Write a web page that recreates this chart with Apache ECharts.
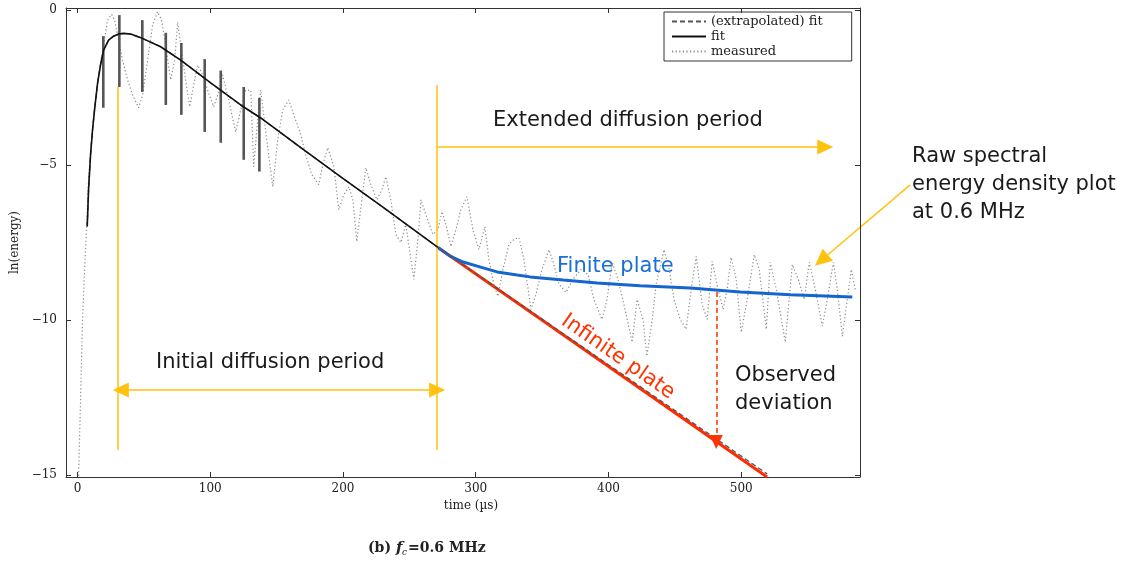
<!DOCTYPE html>
<html><head><meta charset="utf-8">
<script src="https://cdn.jsdelivr.net/npm/echarts@6/dist/echarts.min.js"></script>
<style>html,body{margin:0;padding:0;background:#fff}#c{width:1133px;height:565px}</style>
</head><body><div id="c"></div>
<script>
// ---- data (time in µs, ln(energy)) ----
const xTicks = [0, 100, 200, 300, 400, 500];
const yTicks = [-15, -10, -5, 0];

const measured = [[0.8,-15.03],[1.5,-13.84],[2.3,-12.55],[3.0,-11.27],[3.8,-9.98],[5.3,-8.37],[6.8,-7.02],[8.3,-5.47],[10.6,-4.18],[13.6,-2.90],[16.6,-1.93],[19.6,-1.13],[22.6,-0.32],[25.6,-0.13],[27.9,-0.32],[30.9,-0.97],[33.9,-1.61],[37.7,-2.25],[41.5,-2.74],[46.0,-3.15],[49.0,-2.74],[52.8,-1.61],[56.6,-0.48],[60.3,-0.05],[63.3,-0.32],[66.4,-1.13],[70.1,-2.25],[73.2,-1.61],[75.4,-0.39],[78.4,-1.29],[81.4,-2.25],[84.5,-3.12],[87.5,-2.41],[90.5,-1.77],[94.3,-2.09],[98.0,-2.58],[102.6,-3.12],[105.6,-2.74],[109.3,-2.09],[113.9,-2.90],[119.1,-3.93],[122.9,-3.22],[126.7,-2.58],[130.5,-2.58],[132.7,-5.05],[135.7,-3.54],[138.0,-2.58],[142.5,-4.18],[147.1,-5.70],[150.8,-4.18],[154.6,-3.22],[159.1,-2.90],[162.9,-3.38],[168.2,-4.02],[171.9,-4.67],[176.5,-5.31],[181.7,-5.63],[184.8,-4.99],[188.5,-4.44],[193.1,-5.05],[196.8,-6.44],[200.6,-5.96],[204.4,-5.70],[207.4,-6.12],[210.4,-7.47],[214.2,-6.12],[217.2,-5.09],[221.0,-5.63],[225.5,-6.12],[229.3,-5.79],[232.3,-5.38],[236.0,-6.12],[239.8,-7.24],[243.6,-7.50],[247.3,-6.92],[253.4,-8.69],[256.4,-7.40],[258.7,-6.12],[262.4,-6.60],[267.7,-7.24],[271.5,-7.08],[274.5,-6.50],[277.5,-6.92],[281.3,-7.63],[285.1,-7.08],[288.8,-6.44],[293.3,-6.02],[297.9,-7.08],[302.4,-7.73],[306.9,-6.99],[309.9,-8.05],[313.7,-8.85],[316.7,-9.24],[320.5,-8.37],[325.0,-7.56],[328.8,-7.40],[332.6,-7.34],[336.3,-8.05],[341.6,-9.66],[345.4,-9.17],[349.9,-8.37],[355.2,-7.73],[358.9,-8.21],[362.7,-8.85],[368.0,-9.11],[373.3,-8.69],[379.3,-8.37],[384.6,-8.53],[389.1,-9.34],[395.1,-9.98],[398.9,-9.34],[402.7,-8.14],[407.2,-8.69],[412.5,-9.66],[417.8,-10.72],[421.6,-9.34],[426.1,-10.00],[428.9,-11.17],[433.0,-9.98],[435.9,-8.85],[441.9,-7.73],[445.7,-8.37],[449.4,-9.34],[454.0,-9.98],[458.5,-10.30],[462.3,-9.01],[466.1,-7.95],[470.6,-9.50],[474.4,-9.98],[478.1,-8.11],[482.6,-9.01],[486.4,-9.66],[489.4,-9.01],[492.4,-7.98],[496.2,-8.69],[500.0,-10.40],[504.5,-9.34],[509.8,-7.89],[513.6,-8.37],[518.9,-10.30],[521.9,-8.14],[526.4,-9.01],[533.2,-10.72],[538.5,-8.21],[543.0,-8.69],[547.5,-9.34],[551.3,-8.14],[555.8,-9.01],[561.1,-10.20],[564.9,-9.34],[569.4,-8.14],[572.4,-9.01],[576.2,-10.53],[579.9,-9.34],[582.9,-8.37],[585.9,-9.01]];

const fit = [[7.3,-6.98],[8.3,-5.79],[9.8,-4.67],[11.3,-3.86],[12.8,-3.22],[15.1,-2.35],[17.3,-1.77],[19.6,-1.29],[23.4,-0.97],[27.1,-0.84],[30.9,-0.77],[34.7,-0.75],[40.0,-0.77],[48.8,-0.91],[62.6,-1.18],[77.7,-1.61],[100.3,-2.35],[122.9,-3.06],[138.0,-3.48],[168.2,-4.44],[198.3,-5.38],[228.5,-6.31],[271.5,-7.66]];
const extrapolatedTail = [[519.5,-14.97]];

const finitePlate = [[271.5,-7.66],[280.7,-7.94],[290.5,-8.13],[305.6,-8.32],[316.1,-8.45],[331.2,-8.55],[341.0,-8.61],[365.9,-8.71],[391.5,-8.81],[423.9,-8.90],[461.6,-8.97],[499.3,-9.10],[537.0,-9.19],[583.7,-9.26]];
const infinitePlate = [[271.5,-7.66],[519.5,-15.07]];

// dense oscillation segments of the measured trace (drawn solid)
const barX      = [19.4, 31.5, 48.8, 66.5, 78.2, 95.8, 107.9, 125.2, 137.0];
const barTop    = [-0.84, -0.16, -0.32, -0.73, -1.06, -1.58, -1.95, -2.48, -2.83];
const barBottom = [-3.15, -2.48, -2.64, -3.06, -3.38, -3.93, -4.28, -4.83, -5.21];

// annotation anchors (data coords)
const initialStart = 30.1, diffusionSplit = 270.9;
const rawArrowFrom = [627.3, -5.64], rawArrowTo = [555.5, -8.25];

const serif = '"DejaVu Serif"';
const sans = '"DejaVu Sans"';
const yellow = '#ffc20e';
const minus = v => (v < 0 ? '\u2212' + (-v) : String(v));

const chart = echarts.init(document.getElementById('c'), null, {renderer: 'canvas'});

const axisLineStyle = {show: true, onZero: false, lineStyle: {color: '#333', width: 1}};
const tickStyle = (vals) => ({inside: true, length: 5, customValues: vals, lineStyle: {color: '#333'}});
const arrowHead = {symbol: 'triangle', symbolSize: [15, 16]};

const texts = [
  {t: 'Extended diffusion period', x: 493, y: 121, c: '#1a1a1a'},
  {t: 'Initial diffusion period', x: 156, y: 363, c: '#1a1a1a'},
  {t: 'Raw spectral', x: 912, y: 157, c: '#1a1a1a'},
  {t: 'energy density plot', x: 912, y: 185, c: '#1a1a1a'},
  {t: 'at 0.6 MHz', x: 912, y: 213, c: '#1a1a1a'},
  {t: 'Observed', x: 735, y: 376, c: '#1a1a1a'},
  {t: 'deviation', x: 735, y: 404, c: '#1a1a1a'},
  {t: 'Finite plate', x: 557, y: 267, c: '#1a6fd6'}
];

chart.setOption({
  animation: false,
  backgroundColor: '#fff',
  grid: {left: 66, right: 273, top: 8, bottom: 88},
  legend: {
    data: ['(extrapolated) fit', 'fit', 'measured'],
    orient: 'vertical', left: 664, top: 12,
    itemWidth: 34, itemHeight: 8, itemGap: 2,
    padding: [3, 29, 3, 7],
    borderColor: '#333', borderWidth: 1, borderRadius: 0,
    selectedMode: false,
    itemStyle: {opacity: 0},
    textStyle: {fontFamily: serif, fontSize: 13, color: '#222'}
  },
  xAxis: [
    {
      type: 'value', min: -8.7, max: 589.5, position: 'bottom', splitLine: {show: false},
      axisLine: axisLineStyle,
      name: 'time (\u00b5s)', nameLocation: 'middle', nameGap: 20,
      nameTextStyle: {fontFamily: serif, fontSize: 12, color: '#222', padding: [0, 0, 0, 16]},
      axisTick: tickStyle(xTicks),
      axisLabel: {customValues: xTicks, margin: 6, fontFamily: serif, fontSize: 12, color: '#222', formatter: minus}
    },
    {
      type: 'value', min: -8.7, max: 589.5, position: 'top', splitLine: {show: false},
      axisLine: axisLineStyle, axisTick: tickStyle(xTicks), axisLabel: {show: false}
    }
  ],
  yAxis: [
    {
      type: 'value', min: -15.07, max: 0.07, position: 'left', splitLine: {show: false},
      axisLine: axisLineStyle,
      name: 'ln(energy)', nameLocation: 'middle', nameGap: 39,
      nameTextStyle: {fontFamily: serif, fontSize: 12, color: '#222'},
      axisTick: tickStyle(yTicks),
      axisLabel: {customValues: yTicks, margin: 9, fontFamily: serif, fontSize: 12, color: '#222', formatter: minus}
    },
    {
      type: 'value', min: -15.07, max: 0.07, position: 'right', splitLine: {show: false},
      axisLine: axisLineStyle, axisTick: tickStyle(yTicks), axisLabel: {show: false}
    }
  ],
  series: [
    {
      name: 'measured', type: 'line', data: measured, symbol: 'none', z: 1,
      lineStyle: {color: '#8a8a8a', width: 1.2, type: [1.2, 2.4]}, itemStyle: {color: '#8a8a8a'}
    },
    {
      name: 'bars', type: 'custom', z: 2,
      data: barX.map((x, i) => [x, barTop[i], barBottom[i]]),
      encode: {x: 0, y: [1, 2]},
      renderItem: (params, api) => {
        const a = api.coord([api.value(0), api.value(1)]);
        const b = api.coord([api.value(0), api.value(2)]);
        return {type: 'line', shape: {x1: a[0], y1: a[1], x2: b[0], y2: b[1]}, style: {stroke: '#555', lineWidth: 2.6}};
      }
    },
    {
      name: 'infinite plate', type: 'line', data: infinitePlate, symbol: 'none', z: 3,
      lineStyle: {color: '#ff2a00', width: 3}
    },
    {
      name: 'finite plate', type: 'line', data: finitePlate, symbol: 'none', z: 3,
      lineStyle: {color: '#1565d0', width: 3}
    },
    {
      name: '(extrapolated) fit', type: 'line', data: fit.concat(extrapolatedTail), symbol: 'none', z: 4,
      lineStyle: {color: '#555', width: 1.3, type: [5, 3]}, itemStyle: {color: '#555'}
    },
    {
      name: 'fit', type: 'line', data: fit, symbol: 'none', z: 5,
      lineStyle: {color: '#111', width: 1.6}, itemStyle: {color: '#111'}
    },
    {
      name: 'annotations', type: 'line', data: [], clip: false, z: 6, silent: true,
      markLine: {
        silent: true, animation: false, symbol: 'none',
        label: {show: false}, emphasis: {disabled: true},
        data: [
          [{coord: [initialStart, -2.48], symbol: 'none', lineStyle: {color: yellow, width: 1.5, type: 'solid'}}, {coord: [initialStart, -14.2], symbol: 'none'}],
          [{coord: [diffusionSplit, -2.42], symbol: 'none', lineStyle: {color: yellow, width: 1.5, type: 'solid'}}, {coord: [diffusionSplit, -14.2], symbol: 'none'}],
          [Object.assign({coord: [initialStart + 2.5, -12.26], lineStyle: {color: yellow, width: 1.5, type: 'solid'}}, arrowHead), Object.assign({coord: [diffusionSplit, -12.26]}, arrowHead)],
          [{coord: [diffusionSplit, -4.42], symbol: 'none', lineStyle: {color: yellow, width: 1.5, type: 'solid'}}, Object.assign({coord: [563.3, -4.42]}, arrowHead)],
          [{coord: [481.2, -9.1], symbol: 'none', lineStyle: {color: '#ff3300', width: 1.5, type: [5, 3]}}, {coord: [481.2, -13.94], symbol: 'triangle', symbolSize: [13, 14]}]
        ]
      }
    }
  ]
});

// annotation texts and the out-of-plot arrow (its ends given in data coordinates)
const p0 = chart.convertToPixel({gridIndex: 0}, rawArrowFrom);
const p1 = chart.convertToPixel({gridIndex: 0}, rawArrowTo);
const ang = Math.atan2(p1[1] - p0[1], p1[0] - p0[0]);
const hl = 17, hw = 8;
const base = [p1[0] - hl * Math.cos(ang), p1[1] - hl * Math.sin(ang)];
const nx = -Math.sin(ang), ny = Math.cos(ang);

const graphics = texts.map(o => ({
  type: 'text', x: o.x, y: o.y, silent: true,
  style: {text: o.t, font: '21px ' + sans, fill: o.c, verticalAlign: 'middle'}
}));
graphics.push(
  {type: 'text', x: 618, y: 357, rotation: -0.607, silent: true, style: {text: 'Infinite plate', font: '21px ' + sans, fill: '#ff3300', align: 'center', verticalAlign: 'middle'}},
  {type: 'line', silent: true, shape: {x1: p0[0], y1: p0[1], x2: base[0], y2: base[1]}, style: {stroke: yellow, lineWidth: 1.5}},
  {type: 'polygon', silent: true, shape: {points: [p1, [base[0] + nx * hw, base[1] + ny * hw], [base[0] - nx * hw, base[1] - ny * hw]]}, style: {fill: yellow}},
  {type: 'text', x: 368, y: 548, silent: true, style: {text: '(b)', font: 'bold 14px ' + serif, fill: '#222', verticalAlign: 'middle'}},
  {type: 'text', x: 396, y: 548, silent: true, style: {text: 'f', font: 'italic bold 15px ' + serif, fill: '#222', verticalAlign: 'middle'}},
  {type: 'text', x: 402, y: 553, silent: true, style: {text: 'c', font: 'italic 9px ' + serif, fill: '#222', verticalAlign: 'middle'}},
  {type: 'text', x: 408, y: 548, silent: true, style: {text: '=0.6 MHz', font: 'bold 14px ' + serif, fill: '#222', verticalAlign: 'middle'}}
);
chart.setOption({graphic: graphics});
</script>
</body></html>
